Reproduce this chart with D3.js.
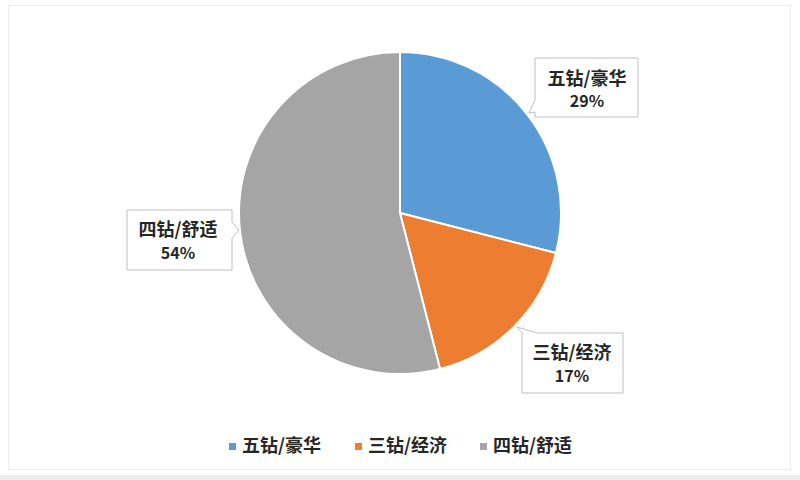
<!DOCTYPE html>
<html>
<head>
<meta charset="utf-8">
<script src="https://cdn.jsdelivr.net/npm/d3@7"></script>
<style>
  html, body { margin: 0; padding: 0; background: #fff; }
  svg { display: block; }
  text { font-family: "Noto Sans CJK SC", "Noto Sans", sans-serif; font-weight: bold; fill: #262626; }
</style>
</head>
<body>
<svg id="chart"></svg>
<script>
"use strict";

var categories = ["五钻/豪华", "三钻/经济", "四钻/舒适"];
var values     = [29, 17, 54];
var pctLabels  = ["29%", "17%", "54%"];
var colors     = ["#5B9BD5", "#ED7D31", "#A5A5A5"];

var width = 800, height = 480,
    cx = 400, cy = 213, radius = 161;

var svg = d3.select("#chart")
  .attr("width", width)
  .attr("height", height);

// faint strip along the bottom of the picture
svg.append("rect")
  .attr("x", 0).attr("y", 475)
  .attr("width", width).attr("height", 5)
  .attr("fill", "#ececec");

// white card with thin border
svg.append("rect")
  .attr("x", 8.5).attr("y", 5.5)
  .attr("width", 782).attr("height", 464)
  .attr("fill", "#fff")
  .attr("stroke", "#ededed");

var pie = d3.pie().sort(null).value(function(d){ return d; });
var arc = d3.arc().innerRadius(0).outerRadius(radius);
var arcs = pie(values);

var g = svg.append("g").attr("transform", "translate(" + cx + "," + cy + ")");

g.selectAll("path")
  .data(arcs)
  .enter()
  .append("path")
  .attr("d", arc)
  .attr("fill", function(d, i){ return colors[i]; })
  .attr("stroke", "#fff")
  .attr("stroke-width", 2);

// callout boxes: box rect, tail tip, tail base on one side
var callouts = [
  { x: 535, y: 58,  w: 103, h: 59, side: "left", b0: 100, b1: 112, tip: [529, 113], tx: 587, ty1: 80,  ty2: 103 },
  { x: 522, y: 333, w: 101, h: 60, side: "top",  b0: 522, b1: 537, tip: [517, 327], tx: 572, ty1: 354, ty2: 378 },
  { x: 127, y: 210, w: 105, h: 60, side: "right",b0: 222, b1: 238, tip: [239, 230], tx: 178, ty1: 231, ty2: 255 }
];

function calloutPath(c) {
  var x0 = c.x, y0 = c.y, x1 = c.x + c.w, y1 = c.y + c.h;
  var p = d3.path();
  if (c.side === "top") {
    p.moveTo(c.tip[0], c.tip[1]);
    p.lineTo(c.b1, y0);
  } else {
    p.moveTo(x0, y0);
  }
  p.lineTo(x1, y0);
  if (c.side === "right") {
    p.lineTo(x1, c.b0);
    p.lineTo(c.tip[0], c.tip[1]);
    p.lineTo(x1, c.b1);
  }
  p.lineTo(x1, y1);
  p.lineTo(x0, y1);
  if (c.side === "left") {
    p.lineTo(x0, c.b1);
    p.lineTo(c.tip[0], c.tip[1]);
    p.lineTo(x0, c.b0);
  }
  if (c.side === "top") {
    p.lineTo(x0, y0);
  }
  p.closePath();
  return p.toString();
}

var labels = svg.append("g").selectAll("g")
  .data(arcs)
  .enter()
  .append("g");

labels.append("path")
  .attr("d", function(d, i){ return calloutPath(callouts[i]); })
  .attr("fill", "#fff")
  .attr("stroke", "#bfbfbf")
  .attr("stroke-width", 1);

labels.append("text")
  .attr("x", function(d, i){ return callouts[i].tx; })
  .attr("y", function(d, i){ return callouts[i].ty1; })
  .attr("text-anchor", "middle")
  .attr("dominant-baseline", "middle")
  .style("font-size", "18px")
  .text(function(d, i){ return categories[i]; });

labels.append("text")
  .attr("x", function(d, i){ return callouts[i].tx; })
  .attr("y", function(d, i){ return callouts[i].ty2; })
  .attr("text-anchor", "middle")
  .attr("dominant-baseline", "middle")
  .style("font-size", "16px")
  .text(function(d, i){ return pctLabels[i]; });

// legend
var legendX = d3.scaleOrdinal().domain(categories).range([229, 355, 480]);

var legend = svg.append("g").selectAll("g")
  .data(categories)
  .enter()
  .append("g")
  .attr("transform", function(d){ return "translate(" + legendX(d) + ",447)"; });

legend.append("rect")
  .attr("x", 0).attr("y", -4)
  .attr("width", 7).attr("height", 7)
  .attr("fill", function(d, i){ return colors[i]; });

legend.append("text")
  .attr("x", 13)
  .attr("y", 0)
  .attr("dominant-baseline", "middle")
  .style("font-size", "18px")
  .text(function(d){ return d; });
</script>
</body>
</html>
